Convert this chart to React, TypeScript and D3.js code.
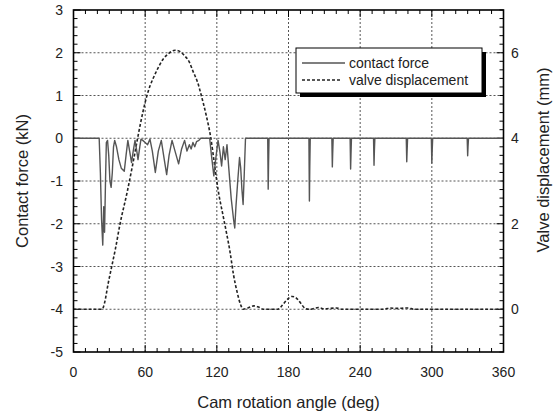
import { useEffect, useRef } from "react";
import * as d3 from "d3";

// contact force (kN) vs cam angle (deg)
const forceAngles = [
  0, 21.5, 22.5, 23.5, 24.5, 25.3, 26, 26.8, 27.5, 28.5, 29.5, 30.5, 31.5, 32.5, 33.5, 34.5,
  36, 38, 40, 42.5, 44, 45.5, 47, 48.6, 50, 51.5, 53, 54, 55.5, 56.5, 58, 60, 62, 64,
  66, 68.5, 71, 73.5, 76, 78, 80, 82.5, 85, 88, 90.5, 93, 95, 97, 98.5, 100, 101.5, 103, 105, 106.5,
  114, 115.5, 117.5, 119, 121, 122.5, 124, 125.5, 127, 128.5, 130, 132, 134, 135, 136, 137.5, 139, 140, 141, 142, 143, 144,
  162.6, 163, 163.3, 163.7,
  197.1, 197.5, 197.8, 198.2,
  216.3, 216.7, 217, 217.4,
  231.6, 232, 232.3, 232.7,
  251.2, 251.6, 251.9, 252.3,
  278.6, 279, 279.3, 279.7,
  299.6, 300, 300.3, 300.7,
  329.6, 330, 330.3, 330.7,
  360,
];
const forceValues = [
  0, 0, -0.8, -1.9, -2.5, -1.6, -2.2, -1.0, -0.1, -0.05, -0.4, -1.0, -1.15, -0.8, -0.2, -0.05,
  -0.2, -0.5, -0.7, -0.77, -0.4, -0.05, -0.3, -0.57, -0.3, -0.05, -0.3, -0.5, -0.2, -0.02, -0.05, -0.1, -0.15, -0.02,
  -0.3, -0.8, -0.3, -0.05, -0.5, -0.85, -0.4, -0.05, -0.3, -0.6, -0.25, -0.05, -0.3, -0.15, -0.25, -0.1, -0.2, -0.08, -0.05, 0,
  0, -0.4, -0.88, -0.5, -0.05, -0.3, -0.65, -0.2, -0.5, -0.15, -0.7, -1.4, -1.9, -2.1, -1.6, -1.0, -0.45, -0.7, -1.2, -1.55, -0.8, 0,
  0, -1.19, -0.6, 0,
  0, -1.47, -0.7, 0,
  0, -0.67, -0.35, 0,
  0, -0.72, -0.4, 0,
  0, -0.63, -0.3, 0,
  0, -0.55, -0.3, 0,
  0, -0.58, -0.3, 0,
  0, -0.41, -0.2, 0,
  0,
];

// valve displacement (mm) vs cam angle (deg)
const liftAngles = [
  0, 24, 26, 29, 32, 35, 39, 45, 50, 54, 58, 61, 64, 67, 70, 75, 80, 85, 89, 93, 97, 100, 104, 107, 111,
  115, 118, 121, 125, 128, 131, 134, 137, 140, 142, 146, 151, 155, 159, 171, 175, 178, 183, 187, 190,
  194, 198, 205, 210, 220, 225, 260, 265, 270, 280, 285, 360,
];
const liftValues = [
  0, 0, 0.15, 0.6, 1.0, 1.4, 2.0, 2.75, 3.45, 4.05, 4.6, 4.95, 5.22, 5.42, 5.6, 5.85, 5.99, 6.06, 6.03, 5.93, 5.78, 5.57, 5.3, 5.0, 4.55,
  4.0, 3.4, 2.8, 2.22, 1.8, 1.35, 0.8, 0.4, 0.1, 0.0, 0.03, 0.08, 0.05, 0.0, 0.0, 0.1, 0.2, 0.3, 0.25, 0.15,
  0.02, 0, 0.04, 0.01, 0.03, 0, 0, 0.03, 0.02, 0.03, 0, 0,
];

const xTicks = [0, 60, 120, 180, 240, 300, 360];
const leftTicks = [-5, -4, -3, -2, -1, 0, 1, 2, 3];
const rightTicks = [0, 2, 4, 6];
const legendLabels = ["contact force", "valve displacement"];

const App = () => {
  const svgRef = useRef(null);
  const width = 559;
  const height = 414;

  useEffect(() => {
    if (!svgRef.current) return;
    const svg = d3.select(svgRef.current);
    svg.selectAll("*").remove();

    const left = 73.5, right = 503.5, top = 10, bottom = 352;
    const font = "'Liberation Sans', Arial, sans-serif";

    const x = d3.scaleLinear().domain([0, 360]).range([left, right]);
    const y = d3.scaleLinear().domain([-5, 3]).range([bottom, top]);
    const yR = d3.scaleLinear().domain([-1, 7]).range([bottom, top]);

    // grid
    const grid = svg.append("g").attr("stroke", "#555").attr("stroke-width", 1).attr("stroke-dasharray", "2,2");
    xTicks.slice(1, -1).forEach((t) => {
      grid.append("line").attr("x1", x(t)).attr("x2", x(t)).attr("y1", top).attr("y2", bottom);
    });
    leftTicks.slice(1, -1).forEach((t) => {
      grid.append("line").attr("x1", left).attr("x2", right).attr("y1", y(t)).attr("y2", y(t));
    });

    // ticks (inside)
    const tk = svg.append("g").attr("stroke", "#000").attr("stroke-width", 1);
    d3.range(0, 361, 10).forEach((t) => {
      const len = t % 60 === 0 ? 7 : 4;
      tk.append("line").attr("x1", x(t)).attr("x2", x(t)).attr("y1", bottom).attr("y2", bottom - len);
      tk.append("line").attr("x1", x(t)).attr("x2", x(t)).attr("y1", top).attr("y2", top + len);
    });
    d3.range(-5, 3.01, 0.2).forEach((t) => {
      const major = Math.abs(t - Math.round(t)) < 1e-6;
      tk.append("line").attr("x1", left).attr("x2", left + (major ? 7 : 4)).attr("y1", y(t)).attr("y2", y(t));
    });
    d3.range(-1, 7.01, 0.2).forEach((t) => {
      const r = Math.round(t);
      const major = Math.abs(t - r) < 1e-6 && r % 2 === 0;
      tk.append("line").attr("x1", right).attr("x2", right - (major ? 7 : 4)).attr("y1", yR(t)).attr("y2", yR(t));
    });

    // valve displacement
    const lift = d3.line<number>().x((d, i) => x(liftAngles[i])).y((d) => yR(d)).curve(d3.curveMonotoneX);
    svg.append("path")
      .attr("d", lift(liftValues))
      .attr("fill", "none")
      .attr("stroke", "#222")
      .attr("stroke-width", 1.6)
      .attr("stroke-dasharray", "3,2");

    // contact force
    const force = d3.line<number>().x((d, i) => x(forceAngles[i])).y((d) => y(d));
    svg.append("path")
      .attr("d", force(forceValues))
      .attr("fill", "none")
      .attr("stroke", "#555")
      .attr("stroke-width", 1.4)
      .attr("stroke-linejoin", "round");

    // frame
    svg.append("rect")
      .attr("x", left).attr("y", top)
      .attr("width", right - left).attr("height", bottom - top)
      .attr("fill", "none").attr("stroke", "#000").attr("stroke-width", 1.6);

    // tick labels
    const txt = svg.append("g").attr("font-family", font).attr("fill", "#222");
    xTicks.forEach((t) => {
      txt.append("text").attr("x", x(t)).attr("y", 377).attr("text-anchor", "middle").attr("font-size", 14).text(t);
    });
    leftTicks.forEach((t) => {
      txt.append("text").attr("x", 63).attr("y", y(t) + 5).attr("text-anchor", "end").attr("font-size", 14).text(t);
    });
    rightTicks.forEach((t) => {
      txt.append("text").attr("x", 511).attr("y", yR(t) + 5).attr("font-size", 14).text(t);
    });

    // axis titles
    txt.append("text").attr("x", (left + right) / 2).attr("y", 408).attr("text-anchor", "middle")
      .attr("font-size", 16.5).text("Cam rotation angle (deg)");
    txt.append("text").attr("transform", `translate(28,${(top + bottom) / 2}) rotate(-90)`)
      .attr("text-anchor", "middle").attr("font-size", 16.5).text("Contact force (kN)");
    txt.append("text").attr("transform", `translate(549,160) rotate(-90)`)
      .attr("text-anchor", "middle").attr("font-size", 16.5).text("Valve displacement (mm)");

    // legend
    const lg = svg.append("g");
    lg.append("rect").attr("x", 300).attr("y", 52).attr("width", 186).attr("height", 45).attr("fill", "#000");
    lg.append("rect").attr("x", 296).attr("y", 48).attr("width", 186).attr("height", 45)
      .attr("fill", "#fff").attr("stroke", "#000").attr("stroke-width", 1);
    lg.append("line").attr("x1", 302).attr("x2", 345).attr("y1", 63).attr("y2", 63)
      .attr("stroke", "#555").attr("stroke-width", 1.4);
    lg.append("line").attr("x1", 302).attr("x2", 342).attr("y1", 80).attr("y2", 80)
      .attr("stroke", "#222").attr("stroke-width", 1.4).attr("stroke-dasharray", "3,2");
    legendLabels.forEach((l, i) => {
      lg.append("text").attr("x", 349).attr("y", 68 + i * 17).attr("font-family", font)
        .attr("font-size", 14).attr("fill", "#222").text(l);
    });
  }, []);

  return (
    <div style={{ position: "absolute", left: 0, top: 0, width: `${width}px`, height: `${height}px`, background: "#fff" }}>
      <svg ref={svgRef} width={width} height={height} viewBox={`0 0 ${width} ${height}`} />
    </div>
  );
};

export default App;
